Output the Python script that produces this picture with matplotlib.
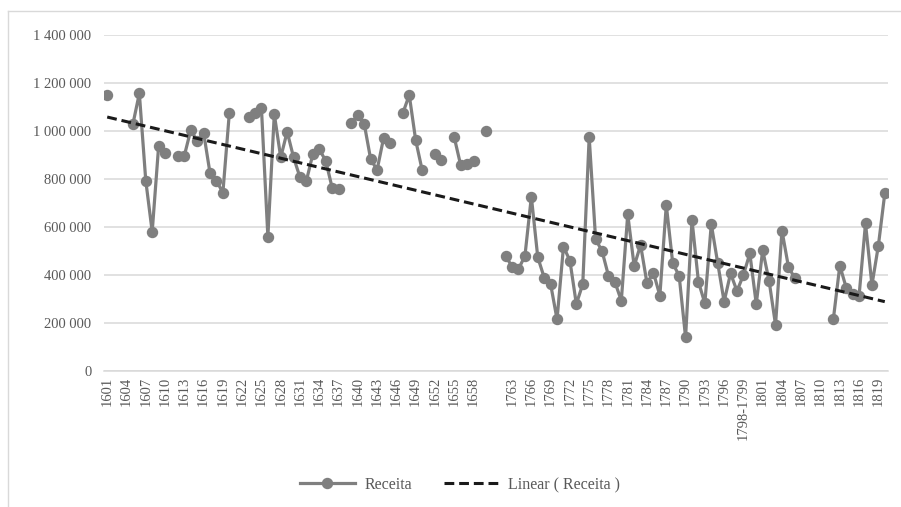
import numpy as np
import matplotlib
matplotlib.use("Agg")
import matplotlib.pyplot as plt
from matplotlib.lines import Line2D
from matplotlib.ticker import FuncFormatter, MultipleLocator

# Category axis: 1601-1660, a spacer, 1761-1820 (with the combined 1798-1799 entry)
years_early = [str(y) for y in range(1601, 1661)]
years_spacer = ["", "1761"]
years_late_a = [str(y) for y in range(1762, 1799)]
years_combined = ["1798-1799"]
years_late_b = [str(y) for y in range(1799, 1821)]
categories = years_early + years_spacer + years_late_a + years_combined + years_late_b

# Receita per category (None = no record)
receita_1601_1660 = [
    1150000, None, None, None, 1029000, 1157000, 793000, 580000, 937000, 907000,
    None, 896000, 897000, 1004000, 958000, 993000, 824000, 793000, 743000, 1074000,
    None, None, 1060000, 1074000, 1095000, 560000, 1070000, 890000, 997000, 890000,
    807000, 793000, 904000, 924000, 876000, 764000, 757000, None, 1032000, 1067000,
    1029000, 882000, 838000, 970000, 951000, None, 1074000, 1150000, 962000, 838000,
    None, 903000, 879000, None, 974000, 858000, 862000, 875000, None, 1000000,
]
receita_spacer = [None, None]
receita_1762_1806 = [
    479000, 435000, 425000, 479000, 726000, 474000, 389000, 362000, 215000, 518000,
    460000, 279000, 362000, 975000, 549000, 500000, 397000, 371000, 293000, 653000,
    437000, 525000, 365000, 410000, 314000, 692000, 449000, 397000, 140000, 629000,
    372000, 282000, 612000, 450000, 289000, 407000, 333000, 400000, 490000, 279000,
    504000, 375000, 192000, 585000, 435000, 386000,
]
receita_1807_1820 = [
    None, None, None, None, None,
    217000, 439000, 347000, 320000, 314000, 615000, 358000, 522000, 740000,
]
receita = receita_1601_1660 + receita_spacer + receita_1762_1806 + receita_1807_1820

y = np.array([np.nan if v is None else v for v in receita], dtype=float)
x = np.arange(len(categories))

# Linear trend fitted on the recorded values
mask = ~np.isnan(y)
slope, intercept = np.polyfit(x[mask] + 1, y[mask], 1)
trend = slope * (x + 1) + intercept

W, H = 901, 507
fig = plt.figure(figsize=(W / 100, H / 100), dpi=100)
plt.rcParams["font.family"] = ["Liberation Serif", "DejaVu Serif"]

ax = fig.add_axes([104 / W, 1 - 371 / H, (888 - 104) / W, (371 - 35) / H])

grey = "#7f7f7f"
ax.plot(x, y, color=grey, lw=2.3, marker="o", ms=7.2, mfc=grey, mec=grey,
        solid_capstyle="round", zorder=3)
ax.plot(x, trend, color="#1a1a1a", lw=2.2, ls=(0, (3.2, 1.6)), zorder=4)

ax.set_xlim(-0.5, len(categories) - 0.5)
ax.set_ylim(0, 1400000)
ax.yaxis.set_major_locator(MultipleLocator(200000))
ax.yaxis.set_major_formatter(
    FuncFormatter(lambda v, p: f"{int(v):,}".replace(",", " ")))
ax.grid(axis="y", color="#d9d9d9", lw=1.1)
ax.set_axisbelow(True)

tick_pos = x[::3]
ax.set_xticks(tick_pos)
ax.set_xticklabels([categories[i] for i in tick_pos], rotation=90,
                   fontsize=10.5, color="#595959", va="top")
ax.tick_params(axis="x", length=0, pad=4)
ax.tick_params(axis="y", length=0, pad=9, labelsize=10.5, labelcolor="#595959")

for s in ("top", "right", "left"):
    ax.spines[s].set_visible(False)
ax.spines["bottom"].set_color("#d9d9d9")
ax.spines["bottom"].set_linewidth(1.1)

# Chart-area frame edges
fig.add_artist(Line2D([8 / W, 8 / W], [0, 1 - 11 / H], color="#d9d9d9", lw=1.0))
fig.add_artist(Line2D([8 / W, 1], [1 - 11 / H, 1 - 11 / H], color="#d9d9d9", lw=1.0))

handles = [
    Line2D([], [], color=grey, lw=2.3, marker="o", ms=7.2, mfc=grey, mec=grey),
    Line2D([], [], color="#1a1a1a", lw=2.2, ls=(0, (3.2, 1.6))),
]
fig.legend(handles, ["Receita", "Linear ( Receita )"], loc="center",
           bbox_to_anchor=(460 / W, 1 - 485 / H), ncol=2, frameon=False,
           fontsize=11.5, labelcolor="#595959", handlelength=3.4,
           columnspacing=2.0, handletextpad=0.6)

fig.savefig("out.png", dpi=100)
